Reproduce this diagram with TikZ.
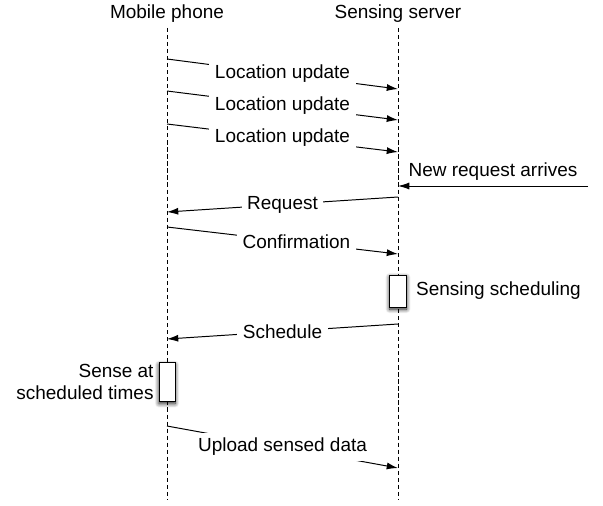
\documentclass[tikz,border=0pt]{standalone}
\usepackage{fontspec}
\setmainfont{Liberation Sans}
\usetikzlibrary{positioning, arrows.meta, shadows.blur}
\tikzset{
  font=\fontsize{13.5}{16}\selectfont,
  % Set arrowhead
  >={Latex[length=8pt, width=5pt]},
  % Lifeline
  life/.style={line width=0.5pt, dash pattern=on 3pt off 2pt},
  % Message
  msg/.style={->, line width=0.7pt},
  % Label sitting on a message
  mlabel/.style={fill=white, inner sep=4pt},
  % Activation box
  act/.style={draw, fill=white, line width=0.7pt, inner sep=0pt,
    blur shadow={shadow blur steps=8, shadow xshift=0pt,
      shadow yshift=-1.5pt, shadow blur radius=3pt, shadow opacity=90}},
}

\begin{document}
\begin{tikzpicture}[x=0.025cm, y=-0.025cm]
  \useasboundingbox (0,0) rectangle (603,505);

  \node (phone) at (167,14) {Mobile phone};
  \node (server) at (398,14) {Sensing server};
  \coordinate (phoneend) at (167,500);
  \coordinate (serverend) at (398,500);

  \draw[life] (phone.south) -- (phoneend);
  \draw[life] (server.south) -- (serverend);

  % ends of messages on the lifelines
  \coordinate (p1) at (167,59);  \coordinate (s1) at (398,89);
  \coordinate (p2) at (167,91);  \coordinate (s2) at (398,120);
  \coordinate (p3) at (167,124); \coordinate (s3) at (398,152);
  \coordinate (new) at (588,186); \coordinate (s4) at (398,186);
  \coordinate (s5) at (398,197); \coordinate (p5) at (167,212);
  \coordinate (p6) at (167,227); \coordinate (s6) at (398,254);
  \coordinate (s7) at (398,324); \coordinate (p7) at (167,339);
  \coordinate (p8) at (167,426); \coordinate (s8) at (398,468);

  \draw[msg] (p1) -- node[mlabel] {Location update} (s1);
  \draw[msg] (p2) -- node[mlabel] {Location update} (s2);
  \draw[msg] (p3) -- node[mlabel] {Location update} (s3);
  \draw[msg] (new) -- node[above=0pt] {New request arrives} (s4);
  \draw[msg] (s5) -- node[mlabel] {Request} (p5);
  \draw[msg] (p6) -- node[mlabel, pos=0.56] {Confirmation} (s6);
  \draw[msg] (s7) -- node[mlabel] {Schedule} (p7);
  \draw[msg] (p8) -- node[mlabel] {Upload sensed data} (s8);

  \node[act, minimum width=0.42cm, minimum height=0.8cm] (sched) at (398,291) {};
  \node[right=3pt of sched] {Sensing scheduling};

  \node[act, minimum width=0.4cm, minimum height=0.97cm] (sense) at (167,382) {};
  \node[left=0pt of sense, align=right] {Sense at\\scheduled times};
\end{tikzpicture}
\end{document}
